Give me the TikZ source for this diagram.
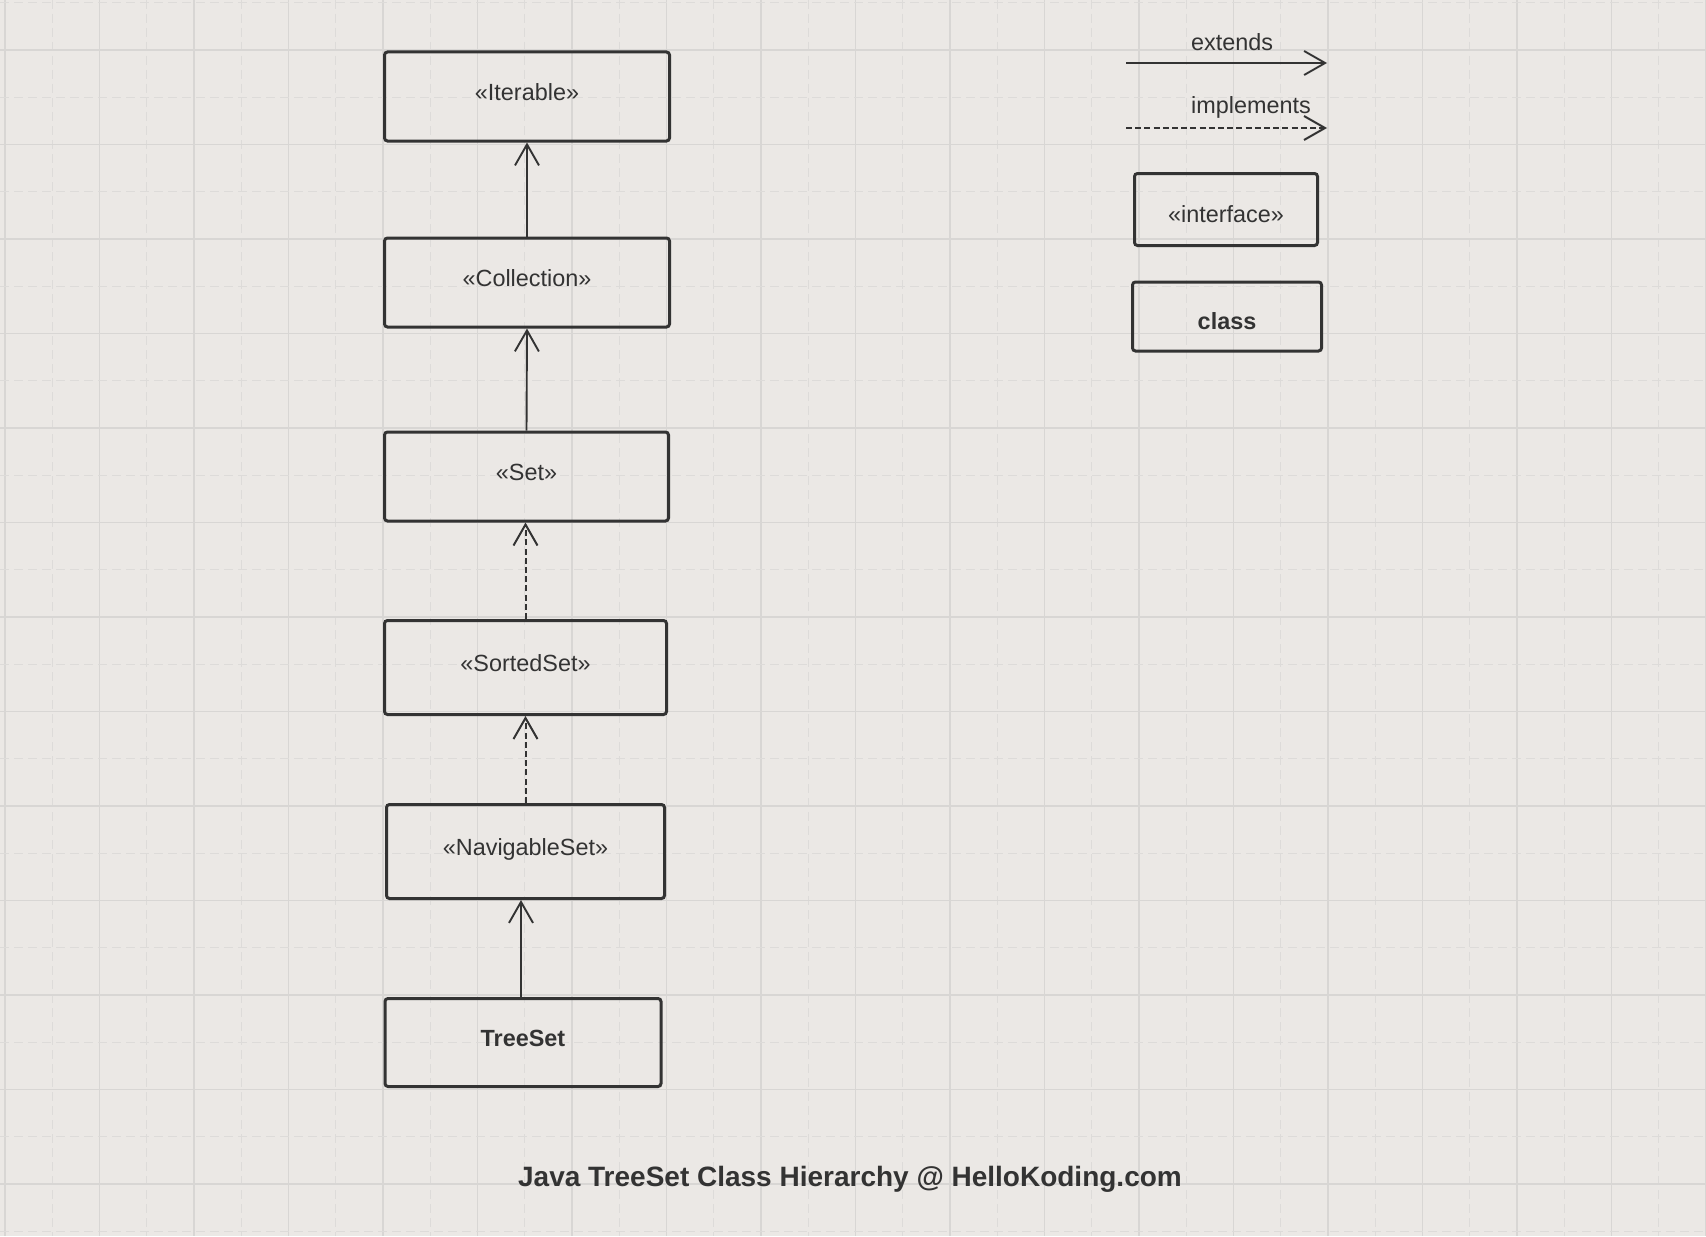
\documentclass[tikz,border=0pt]{standalone}
\usepackage{fontspec}
\setmainfont{Liberation Sans}
\usetikzlibrary{arrows.meta}

\definecolor{paper}{HTML}{EBE8E5}
\definecolor{gridline}{HTML}{D8D6D4}
\definecolor{gridlight}{HTML}{DDDBD9}
\definecolor{ink}{HTML}{333333}

\tikzset{
    box/.style={draw=ink, line width=1.5pt, rounded corners=1.5pt, text=ink, inner sep=0pt,
        font=\fontsize{11.7}{14}\selectfont, text height=8.8pt, text depth=5pt},
    classbox/.style={box, font=\fontsize{11.7}{14}\selectfont\bfseries},
    keybox/.style={box, text height=13pt, text depth=0pt},
    extends/.style={draw=ink, line width=0.95pt, -{Straight Barb[length=10.5pt,width=12pt]}},
    implements/.style={extends, line width=1pt, dash pattern=on 3pt off 1.6pt},
    legendtext/.style={text=ink, font=\fontsize{11.7}{14}\selectfont},
}

\begin{document}
\begin{tikzpicture}[x=0.5pt, y=-0.5pt]
    % paper first, 1 unit = 1 px of the sheet
    \fill [paper] (0,0) rectangle (1706,1236);
    \useasboundingbox (0,0) rectangle (1706,1236);

    % grid, light dashed in between the solid ones
    \foreach \i in {0,...,18} {
        \draw [gridlight, line width=0.6pt, dash pattern=on 4.5pt off 2.5pt] ({52.25+94.5*\i},0) -- ({52.25+94.5*\i},1236);
        \draw [gridline, line width=0.6pt] ({5+94.5*\i},0) -- ({5+94.5*\i},1236);
    }
    \foreach \j in {0,...,13} {
        \draw [gridlight, line width=0.6pt, dash pattern=on 4.5pt off 2.5pt] (0,{2.75+94.5*\j}) -- (1706,{2.75+94.5*\j});
    }
    \foreach \j in {0,...,12} {
        \draw [gridline, line width=0.6pt] (0,{50+94.5*\j}) -- (1706,{50+94.5*\j});
    }

    % the chain of interfaces
    \node [box, minimum width=142.5pt, minimum height=44.5pt] (iterable) at (527, 96.5) {«Iterable»};
    \node [box, minimum width=142.5pt, minimum height=44.5pt] (collection) at (527, 282.5) {«Collection»};
    \node [box, minimum width=142pt, minimum height=44.5pt] (set) at (526.5, 476.5) {«Set»};
    \node [box, minimum width=141pt, minimum height=47pt] (sortedset) at (525.5, 667.5) {«SortedSet»};
    \node [box, minimum width=139pt, minimum height=47pt] (navset) at (525.5, 851.5) {«NavigableSet»};
    \node [classbox, minimum width=138pt, minimum height=44pt] (treeset) at (523, 1042.5) {TreeSet};

    \draw [extends] (collection.north) -- (iterable.south);
    \draw [extends] (set.north) -- (collection.south);
    \draw [implements] (sortedset.north) -- (sortedset.north |- set.south);
    \draw [implements] (navset.north) -- (navset.north |- sortedset.south);
    \draw [extends] ([xshift=-1pt]treeset.north) -- ([xshift=-1pt]treeset.north |- navset.south);

    % legend
    \node [legendtext] (extlabel) at (1232, 42) {extends};
    \node [legendtext] (implabel) at (1251, 107) {implements};
    \coordinate (ext_a) at (1126, 63);
    \coordinate (ext_b) at (1327, 63);
    \coordinate (imp_a) at (1126, 128);
    \coordinate (imp_b) at (1327, 128);
    \draw [extends] (ext_a) -- (ext_b);
    \draw [implements] (imp_a) -- (imp_b);

    \node [keybox, minimum width=91.5pt, minimum height=36pt] (ifacekey) at (1226, 209.5) {«interface»};
    \node [keybox, font=\fontsize{11.7}{14}\selectfont\bfseries, minimum width=94.5pt, minimum height=34.5pt] (classkey) at (1227, 316.5) {class};

    % title at the bottom
    \node [text=ink, font=\fontsize{14}{17}\selectfont\bfseries] (title) at (850, 1179) {Java TreeSet Class Hierarchy @ HelloKoding.com};
\end{tikzpicture}
\end{document}
